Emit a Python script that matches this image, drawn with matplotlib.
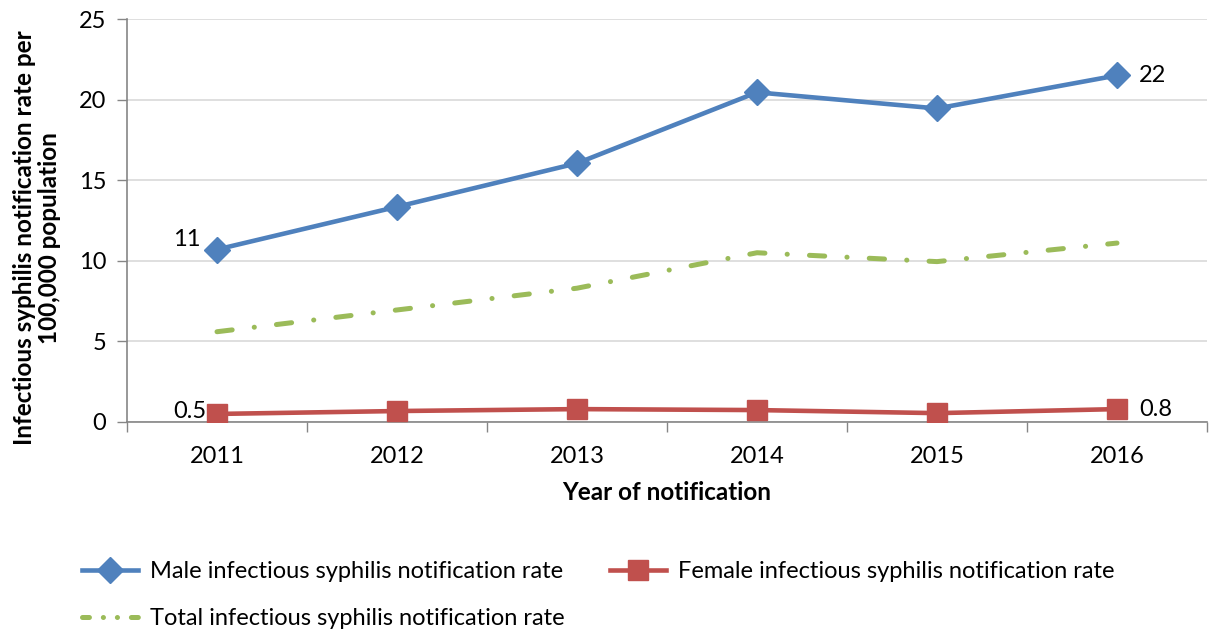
import matplotlib
matplotlib.use("Agg")
import matplotlib.pyplot as plt
from matplotlib.lines import Line2D

plt.rcParams['font.family'] = ['Lato', 'DejaVu Sans']
plt.rcParams['lines.scale_dashes'] = False

years = ["2011", "2012", "2013", "2014", "2015", "2016"]
male = [10.7, 13.35, 16.05, 20.45, 19.45, 21.5]
female = [0.5, 0.68, 0.8, 0.74, 0.55, 0.8]
total = [5.6, 6.95, 8.3, 10.5, 9.95, 11.1]
yticks = [0, 5, 10, 15, 20, 25]

BLUE = "#4F81BD"
RED = "#C0504D"
GREEN = "#9BBB59"
GRID = "#D9D9D9"
AXC = "#868686"
FS = 17

fig = plt.figure(figsize=(12.09, 6.33), dpi=100)
ax = fig.add_axes([127/1209, 1-422/633, 1080/1209, (422-19)/633])

x = list(range(len(years)))
ax.plot(x, total, color=GREEN, lw=3.6, linestyle=(0, (11, 16, 0.1, 16)),
        dash_capstyle='round', solid_capstyle='round', zorder=3,
        label="Total infectious syphilis notification rate")
ax.plot(x, male, color=BLUE, lw=3.3, marker='D', markersize=13, zorder=4,
        label="Male infectious syphilis notification rate")
ax.plot(x, female, color=RED, lw=3.3, marker='s', markersize=14, zorder=4,
        label="Female infectious syphilis notification rate")

ax.set_xlim(-0.5, len(years) - 0.5)
ax.set_ylim(0, 25)
ax.set_yticks(yticks)
ax.set_yticklabels([str(v) for v in yticks], fontsize=FS)
ax.set_xticks(x)
ax.set_xticklabels(years, fontsize=FS)
ax.set_xticks([i - 0.5 for i in range(len(years) + 1)], minor=True)
ax.tick_params(axis='x', which='major', length=0, pad=17)
ax.tick_params(axis='x', which='minor', length=7, color=AXC, width=1)
ax.tick_params(axis='y', length=7, color=AXC, width=1, pad=8)
ax.grid(axis='y', color=GRID, lw=1.2)
ax.set_axisbelow(True)
for s in ['top', 'right']:
    ax.spines[s].set_visible(False)
for s in ['left', 'bottom']:
    ax.spines[s].set_color(AXC)
    ax.spines[s].set_linewidth(1.2)

# data labels
ax.annotate("11", (x[0], male[0]), xytext=(-12, 7), textcoords='offset points',
            ha='right', va='center', fontsize=FS)
ax.annotate("22", (x[-1], male[-1]), xytext=(16, 0), textcoords='offset points',
            ha='left', va='center', fontsize=FS)
ax.annotate("0.5", (x[0], female[0]), xytext=(-8, 2), textcoords='offset points',
            ha='right', va='center', fontsize=FS)
ax.annotate("0.8", (x[-1], female[-1]), xytext=(16, 0), textcoords='offset points',
            ha='left', va='center', fontsize=FS)

ax.set_xlabel("Year of notification", fontsize=17.5, fontweight='bold', labelpad=10)
fig.text(37/1209, 1-238/633, "Infectious syphilis notification rate per\n100,000 population",
         rotation=90, ha='center', va='center', fontsize=17.5, fontweight='bold',
         multialignment='center', linespacing=1.15)

h_male = Line2D([], [], color=BLUE, lw=3.3, marker='D', markersize=13)
h_female = Line2D([], [], color=RED, lw=3.3, marker='s', markersize=14)
h_total = Line2D([], [], color=GREEN, lw=3.6, linestyle=(0, (5, 10, 0.1, 10, 0.1, 10)),
                 dash_capstyle='round')
leg = fig.legend([h_male, h_total, h_female],
                 ["Male infectious syphilis notification rate",
                  "Total infectious syphilis notification rate",
                  "Female infectious syphilis notification rate"],
                 ncol=2, loc='upper left', bbox_to_anchor=(70/1209, 1-549/633),
                 frameon=False, fontsize=FS, handlelength=2.4, handletextpad=0.5,
                 columnspacing=1.9, labelspacing=1.1, borderpad=0)

fig.savefig("out.png", dpi=100)
